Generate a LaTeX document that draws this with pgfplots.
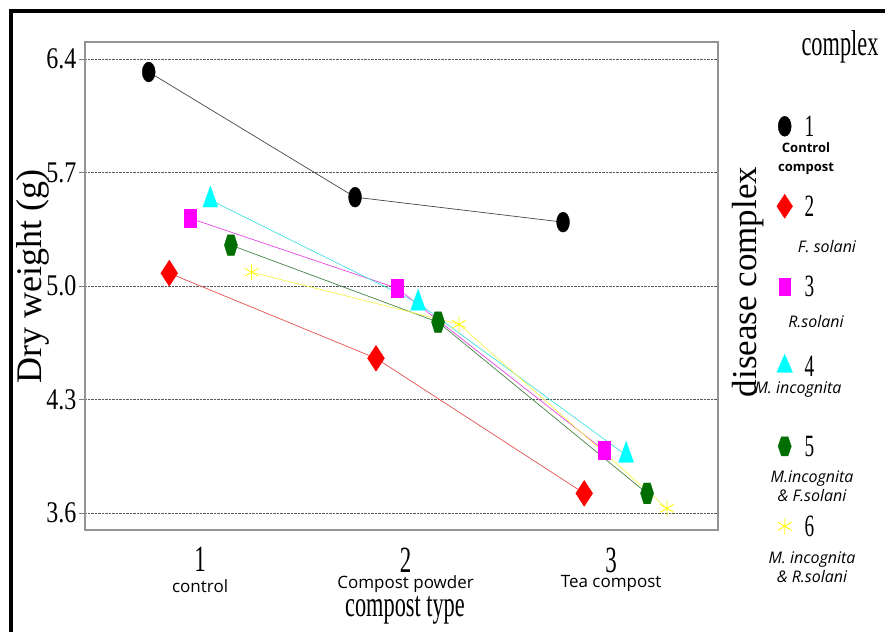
\documentclass[border=0pt]{standalone}
\usepackage{pgfplots}
\pgfplotsset{compat=1.18}
\usepackage{fontspec}
\setmainfont{Liberation Serif}
\newfontfamily\cond{Liberation Serif}[FakeStretch=0.62]
\newfontfamily\condb{Liberation Serif}[FakeStretch=0.8]
\newfontfamily\sans{Open Sans}
\definecolor{cMag}{RGB}{255,0,255}
\definecolor{cCyan}{RGB}{0,255,255}
\definecolor{cGreen}{RGB}{0,110,0}
\definecolor{cYel}{RGB}{255,255,0}
\definecolor{lBlack}{RGB}{70,70,70}
\definecolor{lRed}{RGB}{230,80,80}
\definecolor{lMag}{RGB}{230,70,230}
\definecolor{lCyan}{RGB}{70,225,225}
\definecolor{lGreen}{RGB}{70,130,70}
\definecolor{lYel}{RGB}{245,245,80}
\pgfdeclareplotmark{hexagon*}{%
  \pgfpathmoveto{\pgfqpointpolar{0}{\pgfplotmarksize}}%
  \pgfpathlineto{\pgfqpointpolar{60}{\pgfplotmarksize}}%
  \pgfpathlineto{\pgfqpointpolar{120}{\pgfplotmarksize}}%
  \pgfpathlineto{\pgfqpointpolar{180}{\pgfplotmarksize}}%
  \pgfpathlineto{\pgfqpointpolar{240}{\pgfplotmarksize}}%
  \pgfpathlineto{\pgfqpointpolar{300}{\pgfplotmarksize}}%
  \pgfpathclose\pgfusepathqfillstroke}
\begin{document}
\begin{tikzpicture}
\begin{axis}[
  name=ax, scale only axis,
  width=633pt, height=488pt,
  xmin=0.44, xmax=3.52, ymin=3.495, ymax=6.505,
  xtick={1,2,3},
  xticklabels={
    {{\cond\fontsize{37}{37}\selectfont 1}\\[7pt]{\sans\fontsize{17}{17}\selectfont control}},
    {{\cond\fontsize{37}{37}\selectfont 2}\\[3pt]{\sans\fontsize{17}{17}\selectfont Compost powder}},
    {{\cond\fontsize{37}{37}\selectfont 3}\\[1.5pt]{\sans\fontsize{17}{17}\selectfont Tea compost}}},
  xticklabel style={align=center, anchor=north, yshift=-8pt},
  ytick={3.6,4.3,5.0,5.7,6.4},
  yticklabels={3.6,4.3,5.0,5.7,6.4},
  yticklabel style={font=\condb\fontsize{30}{30}\selectfont, xshift=1pt},
  tick pos=left, tick align=outside, major tick length=6pt,
  xtick style={draw=none},
  ytick style={gray, line width=0.8pt},
  ymajorgrids,
  major grid style={densely dotted, black!65, line width=0.8pt},
  axis line style={gray!85, line width=1.3pt},
  ylabel={Dry weight (g)},
  ylabel style={at={(axis description cs:-0.082,0.52)}, anchor=center, font=\fontsize{36}{36}\selectfont},
  xlabel={compost type},
  xlabel style={at={(axis description cs:0.5055,-0.165)}, anchor=center, font=\cond\fontsize{36}{36}\selectfont},
  legend style={draw=none, fill=none, inner sep=0pt, outer sep=0pt,
    at={(1.093,0.857)}, anchor=north west,
    font=\cond\fontsize{31}{31}\selectfont,
    nodes={inner sep=0pt, text height=25pt, text depth=55pt},
    column sep=12pt},
  legend cell align=left,
  legend image code/.code={\draw[#1] plot coordinates {(5pt,25.5pt)};},
]
\addplot[color=lBlack, line width=0.7pt, mark=*, mark size=10pt,
  mark options={fill=black, draw=black, xscale=0.65, line width=0.3pt}, forget plot]
  coordinates {(0.75,6.32) (1.754,5.548) (2.766,5.394)};
\addplot[color=lRed, line width=0.7pt, mark=diamond*, mark size=13pt,
  mark options={fill=red, draw=red, xscale=0.87, line width=0.3pt}, forget plot]
  coordinates {(0.85,5.079) (1.856,4.554) (2.869,3.721)};
\addplot[color=lMag, line width=0.7pt, mark=square*, mark size=9pt,
  mark options={fill=cMag, draw=cMag, xscale=0.68, line width=0.3pt}, forget plot]
  coordinates {(0.95,5.418) (1.959,4.986) (2.966,3.986)};
\addplot[color=lCyan, line width=0.7pt, mark=triangle*, mark size=14pt,
  mark options={fill=cCyan, draw=cCyan, xscale=0.62, line width=0.3pt}, forget plot]
  coordinates {(1.05,5.53) (2.061,4.894) (3.073,3.956)};
\addplot[color=lGreen, line width=0.7pt, mark=hexagon*, mark size=12pt,
  mark options={fill=cGreen, draw=cGreen, xscale=0.55, line width=0.3pt}, forget plot]
  coordinates {(1.15,5.252) (2.158,4.777) (3.175,3.721)};
\addplot[color=lYel, line width=0.7pt, mark=asterisk, mark size=8pt,
  mark options={draw=cYel, line width=0.8pt}, forget plot]
  coordinates {(1.25,5.085) (2.26,4.764) (3.272,3.628)};
\addlegendimage{only marks, mark=*, mark size=10pt, mark options={fill=black, draw=black, xscale=0.65}}
\addlegendentry{1}
\addlegendimage{only marks, mark=diamond*, mark size=12pt, mark options={fill=red, draw=red, xscale=0.87}}
\addlegendentry{2}
\addlegendimage{only marks, mark=square*, mark size=8.5pt, mark options={fill=cMag, draw=cMag, xscale=0.7}}
\addlegendentry{3}
\addlegendimage{only marks, mark=triangle*, mark size=12pt, mark options={fill=cCyan, draw=cCyan, xscale=0.75}}
\addlegendentry{4}
\addlegendimage{only marks, mark=hexagon*, mark size=11pt, mark options={fill=cGreen, draw=cGreen, xscale=0.6}}
\addlegendentry{5}
\addlegendimage{only marks, mark=asterisk, mark size=8pt, mark options={draw=cYel, line width=0.8pt}}
\addlegendentry{6}
\end{axis}
\begin{scope}[shift={(ax.south west)}, xshift=-85pt, yshift=-102pt, x=1pt, y=1pt]
\fill[black] (9,0) rectangle (13,623);
\fill[black] (9,619) rectangle (885,623);
\node[font=\cond\fontsize{36}{36}\selectfont] at (840,585) {complex};
\node[rotate=90, font=\fontsize{35}{35}\selectfont] at (748,350) {disease complex};
\node[align=center, font=\sans\bfseries\fontsize{13}{19}\selectfont] at (806,473) {Control\\compost};
\node[font=\sans\itshape\fontsize{16}{19}\selectfont] at (827,385) {F. solani};
\node[font=\sans\itshape\fontsize{16}{19}\selectfont] at (816,310) {R.solani};
\node[font=\sans\itshape\fontsize{16}{19}\selectfont] at (798,242) {M. incognita};
\node[align=center, font=\sans\itshape\fontsize{16}{19}\selectfont] at (812,146) {M.incognita\\\& F.solani};
\node[align=center, font=\sans\itshape\fontsize{16}{19}\selectfont] at (812,65) {M. incognita\\\& R.solani};
\end{scope}
\pgfresetboundingbox
\path[use as bounding box] ([xshift=-85pt, yshift=-102pt]ax.south west) rectangle ([xshift=800pt, yshift=530pt]ax.south west);
\end{tikzpicture}
\end{document}
